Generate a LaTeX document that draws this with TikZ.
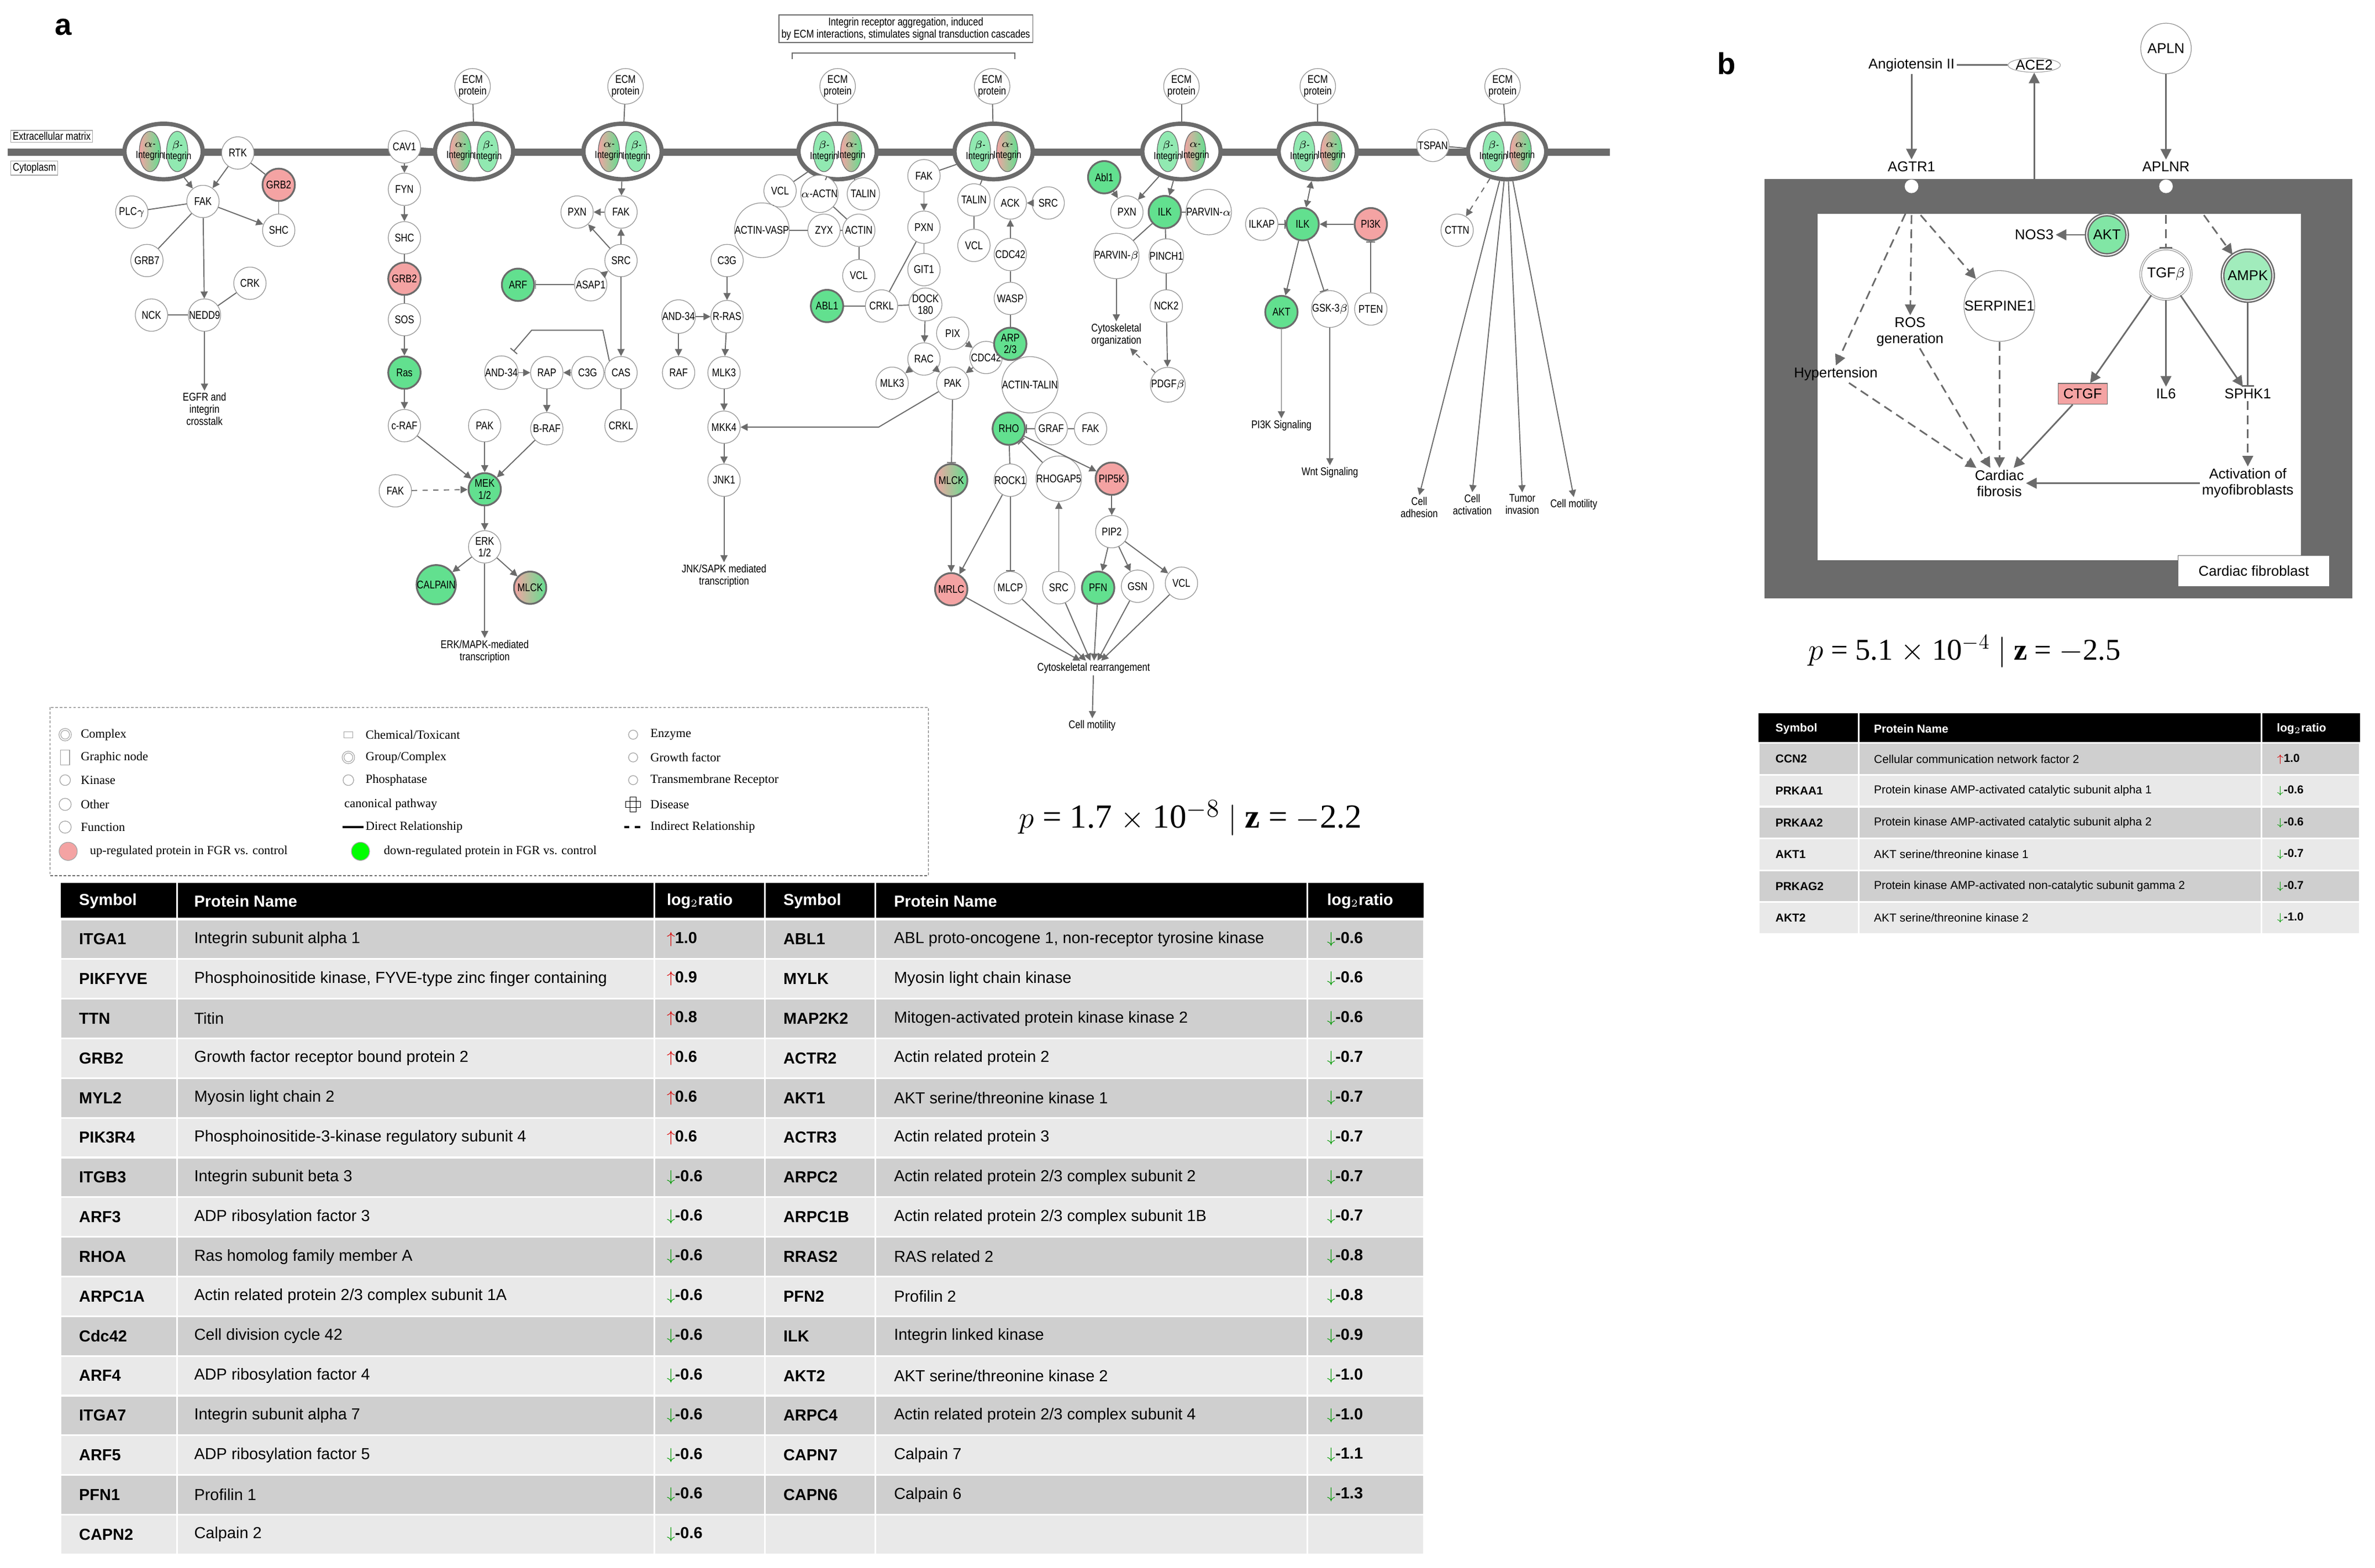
\documentclass[tikz,border=0pt]{standalone}
\usepackage{fontspec}
\setmainfont{Liberation Serif}
\newfontfamily\sans{Liberation Sans}
\newfontfamily\nsans[FakeStretch=0.82]{Liberation Sans}
\usetikzlibrary{arrows.meta,shapes.geometric}
\definecolor{lc}{HTML}{6B6B6B}
\definecolor{gfill}{HTML}{62E08F}
\definecolor{rfill}{HTML}{F4A3A3}
\definecolor{rowA}{HTML}{CFCFCF}
\definecolor{rowB}{HTML}{E9E9E9}
\newcommand\myup[1]{{\color{red!85!black}$\uparrow$}#1}
\newcommand\mydn[1]{{\color{green!60!black}$\downarrow$}#1}
\tikzset{
 gn/.style={circle,draw=lc!70,fill=white,minimum size=0.64cm,inner sep=0pt,font=\nsans\fontsize{6.3}{6.6}\selectfont,align=center},
 gg/.style={gn,fill=gfill,draw=lc,line width=1pt},
 gr/.style={gn,fill=rfill,draw=lc,line width=1pt},
 gm/.style={gn,left color=rfill,right color=gfill,draw=lc,line width=1pt},
 tx/.style={font=\nsans\fontsize{6.3}{6.8}\selectfont,align=center,inner sep=1pt},
 cplx/.style={ellipse,draw=lc,line width=2.4pt,fill=white,minimum width=1.55cm,minimum height=1.1cm},
 ial/.style={ellipse,draw=lc,left color=rfill,right color=gfill,minimum width=0.42cm,minimum height=0.8cm,inner sep=0pt},
 ibe/.style={ellipse,draw=lc,fill=gfill!70,minimum width=0.42cm,minimum height=0.8cm,inner sep=0pt},
 il/.style={font=\nsans\fontsize{5.8}{6.2}\selectfont,align=center},
 ln/.style={draw=lc,line width=0.6pt},
 ar/.style={ln,-{Triangle[length=4pt,width=4pt]}},
 da/.style={ar,dashed},
 inh/.style={ln,-{Bar[width=5pt]}},
 bn/.style={circle,draw=lc!70,fill=white,minimum size=1.0cm,inner sep=0pt,font=\sans\fontsize{8}{9}\selectfont,align=center},
 btx/.style={font=\sans\fontsize{8}{9}\selectfont,align=center,inner sep=1pt},
 bar/.style={draw=lc,line width=0.9pt,-{Triangle[length=6pt,width=6pt]}},
 bda/.style={bar,dash pattern=on 5pt off 3pt},
 binh/.style={draw=lc,line width=0.9pt,-{Bar[width=7pt]}},
}
\newcommand\icx[3]{%
 \node[cplx] (#1) at (#2,100) {};
 \ifnum#3=0
  \node[ial] at (#2-9,100) {}; \node[ibe] at (#2+9,100) {};
  \node[il] at (#2-9,100) {$\alpha$-\\Integrin}; \node[il] at (#2+9,100) {$\beta$-\\Integrin};
 \else
  \node[ibe] at (#2-9,100) {}; \node[ial] at (#2+9,100) {};
  \node[il] at (#2-9,100) {$\beta$-\\Integrin}; \node[il] at (#2+9,100) {$\alpha$-\\Integrin};
 \fi}
\newcommand\ecm[3]{\node[gn] (#1) at (#2,57) {ECM\\protein}; \draw[ln] (#1) -- (#3);}
\begin{document}
\begin{tikzpicture}[x=0.03cm,y=-0.03cm]
\useasboundingbox (0,0) rectangle (1568,1035);
\fill[white] (0,0) rectangle (1568,1035);
\node[font=\sans\bfseries\fontsize{17}{18}\selectfont] (la) at (42,18) {a};
\node[font=\sans\bfseries\fontsize{17}{18}\selectfont] (lb) at (1140,42) {b};
% ---------------- membrane
\fill[lc] (5,98) rectangle (1063,103);
\node[draw=lc!60,fill=white,font=\nsans\fontsize{6.3}{6.6}\selectfont,inner sep=1pt,anchor=west] (ecx) at (7,90) {Extracellular matrix};
\node[draw=lc!60,fill=white,font=\nsans\fontsize{6.3}{6.6}\selectfont,inner sep=1pt,anchor=west] (cyt) at (7,111) {Cytoplasm};
\node[draw=lc,line width=0.5pt,font=\nsans\fontsize{6.3}{6.8}\selectfont,align=center,inner sep=1.5pt] (note) at (598,19) {Integrin receptor aggregation, induced\\by ECM interactions, stimulates signal transduction cascades};
\draw[lc,line width=0.6pt] (523,39) -- (523,35) -- (670,35) -- (670,39);
\icx{c1}{108}{0}\icx{c2}{313}{0}\icx{c3}{411}{0}\icx{c4}{553}{1}
\icx{c5}{656}{1}\icx{c6}{780}{1}\icx{c7}{870}{1}\icx{c8}{995}{1}
\ecm{e2}{312}{c2}\ecm{e3}{413}{c3}\ecm{e4}{553}{c4}\ecm{e5}{655}{c5}
\ecm{e6}{780}{c6}\ecm{e7}{870}{c7}\ecm{e8}{992}{c8}
% ---------------- group 1
\node[gn] (rtk) at (157,101) {RTK};
\node[gn] (fak1) at (134,133) {FAK};
\node[gr] (grb2a) at (184,122) {GRB2};
\node[gn] (plc) at (87,140) {PLC$\gamma$};
\node[gn] (shc1) at (184,152) {SHC};
\node[gn] (grb7) at (97,172) {GRB7};
\node[gn] (crk) at (165,187) {CRK};
\node[gn] (nck) at (100,208) {NCK};
\node[gn] (ned) at (135,208) {NEDD9};
\node[tx] (egfr) at (135,270) {EGFR and\\integrin\\crosstalk};
\draw[ar] (c1) -- (fak1); \draw[ar] (rtk) -- (fak1); \draw[ln] (rtk) -- (grb2a);
\draw[ln] (grb2a) -- (shc1); \draw[ln] (fak1) -- (plc); \draw[ar] (fak1) -- (shc1);
\draw[ln] (fak1) -- (grb7); \draw[ar] (fak1) -- (ned); \draw[ln] (crk) -- (ned);
\draw[ln] (nck) -- (ned); \draw[ar] (ned) -- (egfr);
% ---------------- group 2
\node[gn] (cav) at (267,97) {CAV1};
\node[gn] (fyn) at (267,125) {FYN};
\node[gn] (shc2) at (267,157) {SHC};
\node[gr] (grb2b) at (267,184) {GRB2};
\node[gn] (sos) at (267,211) {SOS};
\node[gg] (ras) at (267,246) {Ras};
\node[gn] (craf) at (267,281) {c-RAF};
\node[gn] (pak1) at (320,281) {PAK};
\node[gn] (braf) at (361,283) {B-RAF};
\node[gn] (fak2) at (261,324) {FAK};
\node[gg] (mek) at (320,323) {MEK\\1/2};
\node[gn] (erk) at (320,361) {ERK\\1/2};
\node[gg] (calp) at (288,386) {CALPAIN};
\node[gm] (mlck1) at (350,388) {MLCK};
\node[tx] (erkt) at (320,430) {ERK/MAPK-mediated\\transcription};
\draw[ln] (cav) -- (c2); \draw[ar] (cav) -- (fyn); \draw[ar] (fyn) -- (shc2);
\draw[ln] (shc2) -- (grb2b); \draw[ln] (grb2b) -- (sos); \draw[ar] (sos) -- (ras);
\draw[ar] (ras) -- (craf); \draw[ar] (craf) -- (mek); \draw[ar] (pak1) -- (mek);
\draw[ar] (braf) -- (mek); \draw[da] (fak2) -- (mek); \draw[ar] (mek) -- (erk);
\draw[ar] (erk) -- (calp); \draw[ar] (erk) -- (mlck1); \draw[ar] (erk) -- (erkt);
% ---------------- group 3
\node[gn] (fak3) at (410,140) {FAK};
\node[gn] (pxn3) at (381,140) {PXN};
\node[gn] (src3) at (410,172) {SRC};
\node[gg] (arf) at (342,188) {ARF};
\node[gn] (asap) at (390,188) {ASAP1};
\node[gn] (and3) at (331,246) {AND-34};
\node[gn] (rap) at (361,246) {RAP};
\node[gn] (c3g3) at (388,246) {C3G};
\node[gn] (cas) at (410,246) {CAS};
\node[gn] (crkl3) at (410,281) {CRKL};
\coordinate (ib1) at (398,218); \coordinate (ib2) at (351,218); \coordinate (ib3) at (339,232);
\draw[ar] (c3) -- (fak3); \draw[ar] (fak3) -- (pxn3); \draw[ar] (src3) -- (fak3);
\draw[ar] (src3) -- (pxn3); \draw[inh] (asap) -- (arf); \draw[ar] (asap) -- (src3);
\draw[ar] (src3) -- (cas); \draw[ar] (and3) -- (rap); \draw[ar] (c3g3) -- (rap);
\draw[ln] (c3g3) -- (cas); \draw[ln] (cas) -- (crkl3); \draw[ar] (rap) -- (braf);
\draw[ln,-{Bar[width=5pt]}] (cas.north west) -- (ib1) -- (ib2) -- (ib3);
% ---------------- group 4
\node[gn] (vcl4) at (515,126) {VCL};
\node[gn] (actn) at (541,128) {$\alpha$-ACTN};
\node[gn] (tal4) at (570,128) {TALIN};
\node[gn] (avasp) at (503,152) {ACTIN-VASP};
\node[gn] (zyx) at (544,152) {ZYX};
\node[gn] (act4) at (567,152) {ACTIN};
\node[gn] (vcl4b) at (567,182) {VCL};
\node[gn] (c3g4) at (480,172) {C3G};
\node[gn] (and4) at (448,209) {AND-34};
\node[gn] (rras) at (480,209) {R-RAS};
\node[gn] (raf4) at (448,246) {RAF};
\node[gn] (mlk3a) at (478,246) {MLK3};
\node[gn] (mkk4) at (478,282) {MKK4};
\node[gn] (jnk) at (478,317) {JNK1};
\node[tx] (jnkt) at (478,380) {JNK/SAPK mediated\\transcription};
\draw[ln] (c4) -- (vcl4); \draw[ln] (c4) -- (actn); \draw[ln] (c4) -- (tal4);
\draw[ln] (vcl4) -- (avasp); \draw[ln] (avasp) -- (zyx); \draw[ln] (zyx) -- (act4);
\draw[ln] (actn) -- (act4); \draw[ln] (act4) -- (vcl4b);
\draw[ar] (c3g4) -- (rras); \draw[ar] (and4) -- (rras); \draw[ar] (and4) -- (raf4);
\draw[ar] (rras) -- (mlk3a); \draw[ar] (mlk3a) -- (mkk4); \draw[ar] (mkk4) -- (jnk);
\draw[ar] (jnk) -- (jnkt);
% ---------------- group 5
\node[gg] (abl) at (546,202) {ABL1};
\node[gn] (crkl5) at (582,202) {CRKL};
\node[gn] (dock) at (611,201) {DOCK\\180};
\node[gn] (fak5) at (610,116) {FAK};
\node[gn] (pxn5) at (610,150) {PXN};
\node[gn] (git) at (610,178) {GIT1};
\node[gn] (pix) at (629,220) {PIX};
\node[gn] (rac) at (610,237) {RAC};
\node[gn] (cdc5) at (651,236) {CDC42};
\node[gn] (mlk3b) at (589,253) {MLK3};
\node[gn] (pak5) at (629,253) {PAK};
\node[gn] (tal5) at (643,132) {TALIN};
\node[gn] (ack) at (667,134) {ACK};
\node[gn] (src5) at (692,134) {SRC};
\node[gn] (vcl5) at (643,162) {VCL};
\node[gn] (cdc5b) at (667,168) {CDC42};
\node[gn] (wasp) at (667,197) {WASP};
\node[gg] (arp) at (667,227) {ARP\\2/3};
\node[gn] (acttal) at (680,254) {ACTIN-TALIN};
\node[gg] (rho) at (666,283) {RHO};
\node[gn] (graf) at (694,283) {GRAF};
\node[gn] (fak5b) at (720,283) {FAK};
\node[gn] (rock) at (667,317) {ROCK1};
\node[gn] (rhogap) at (699,316) {RHOGAP5};
\node[gr] (pip5k) at (734,316) {PIP5K};
\node[gm] (mlck5) at (628,317) {MLCK};
\node[gn] (pip2) at (734,351) {PIP2};
\node[gr] (mrlc) at (628,389) {MRLC};
\node[gn] (mlcp) at (667,388) {MLCP};
\node[gn] (src5b) at (699,388) {SRC};
\node[gg] (pfn) at (725,388) {PFN};
\node[gn] (gsn) at (751,387) {GSN};
\node[gn] (vcl5b) at (780,385) {VCL};
\node[tx] (cyto) at (722,441) {Cytoskeletal rearrangement};
\node[tx] (motil) at (721,479) {Cell motility};
\coordinate (pk) at (580,282);
\draw[ln] (c5) -- (fak5); \draw[ar] (fak5) -- (pxn5); \draw[ln] (pxn5) -- (git);
\draw[ln] (pxn5) -- (crkl5); \draw[ln] (abl) -- (crkl5); \draw[ln] (crkl5) -- (dock);
\draw[ar] (dock) -- (rac); \draw[ar] (pix) -- (cdc5); \draw[ar] (rac) -- (mlk3b);
\draw[ar] (rac) -- (pak5); \draw[ar] (cdc5) -- (pak5); \draw[ln] (c5) -- (tal5);
\draw[ln] (tal5) -- (vcl5); \draw[ar] (src5) -- (ack); \draw[ar] (cdc5b) -- (ack);
\draw[ln] (cdc5b) -- (wasp); \draw[ln] (wasp) -- (arp); \draw[ln] (arp) -- (acttal);
\draw[ln,-{Triangle[length=4pt,width=4pt]}] (pak5) -- (pk) -- (mkk4);
\draw[inh] (pak5) -- (mlck5); \draw[ar] (mlck5) -- (mrlc); \draw[ar] (rock) -- (mrlc);
\draw[inh] (rock) -- (mlcp); \draw[ln] (rho) -- (rock); \draw[inh] (graf) -- (rho);
\draw[ln] (graf) -- (fak5b); \draw[ar] (rho) -- (pip5k); \draw[inh] (rhogap) -- (rho);
\draw[ar] (src5b) -- (rhogap); \draw[ar] (pip5k) -- (pip2); \draw[ar] (pip2) -- (pfn);
\draw[ar] (pip2) -- (gsn); \draw[ar] (pip2) -- (vcl5b);
\foreach \n in {mrlc,mlcp,src5b,pfn,gsn,vcl5b} \draw[ar] (\n) -- (cyto);
\draw[ar] (cyto) -- (motil);
% ---------------- group 6
\node[gg] (abl6) at (729,117) {Abl1};
\node[gn] (pxn6) at (744,140) {PXN};
\node[gg] (ilk6) at (769,140) {ILK};
\node[gn] (parva) at (798,140) {PARVIN-$\alpha$};
\node[gn] (parvb) at (737,169) {PARVIN-$\beta$};
\node[gn] (pinch) at (770,169) {PINCH1};
\node[gn] (nck2) at (770,202) {NCK2};
\node[tx] (cyorg) at (737,221) {Cytoskeletal\\organization};
\node[gn] (pdgf) at (771,254) {PDGF$\beta$};
\draw[ar] (abl6) -- (pxn6); \draw[ar] (c6) -- (pxn6); \draw[ar] (c6) -- (ilk6);
\draw[ln] (ilk6) -- (parva); \draw[ln] (ilk6) -- (parvb); \draw[ln] (ilk6) -- (pinch);
\draw[ln] (pinch) -- (nck2); \draw[ar] (nck2) -- (pdgf); \draw[ar] (parvb) -- (cyorg);
\draw[da] (pdgf) -- (cyorg);
% ---------------- group 7
\node[gn] (ilkap) at (833,148) {ILKAP};
\node[gg] (ilk7) at (860,148) {ILK};
\node[gr] (pi3k) at (905,148) {PI3K};
\node[gg] (akt7) at (846,206) {AKT};
\node[gn] (gsk) at (878,204) {GSK-3$\beta$};
\node[gn] (pten) at (905,204) {PTEN};
\node[tx] (pi3ks) at (846,281) {PI3K Signaling};
\node[tx] (wnt) at (878,312) {Wnt Signaling};
\draw[ln,{Triangle[length=4pt,width=4pt]}-{Triangle[length=4pt,width=4pt]}] (c7) -- (ilk7);
\draw[inh] (ilkap) -- (ilk7); \draw[ar] (pi3k) -- (ilk7); \draw[inh] (pten) -- (pi3k);
\draw[ar] (ilk7) -- (akt7); \draw[inh] (ilk7) -- (gsk); \draw[ar] (akt7) -- (pi3ks);
\draw[ar] (gsk) -- (wnt);
% ---------------- group 8
\node[gn] (tspan) at (946,96) {TSPAN};
\node[gn] (cttn) at (962,152) {CTTN};
\node[tx] (cadh) at (937,335) {Cell\\adhesion};
\node[tx] (cact) at (972,333) {Cell\\activation};
\node[tx] (tinv) at (1005,333) {Tumor\\invasion};
\node[tx] (cmot) at (1039,333) {Cell motility};
\draw[ln] (tspan) -- (c8); \draw[da] (c8) -- (cttn);
\foreach \n in {cadh,cact,tinv,cmot} \draw[ar] (c8) -- (\n.north);
% ---------------- legend
\draw[lc,dash pattern=on 1.5pt off 1pt,line width=0.5pt] (33,467) rectangle (613,578);
\begin{scope}[every node/.style={font=\fontsize{7}{8}\selectfont,anchor=west,inner sep=1pt}]
\node (l1) at (52,485) {Complex}; \node (l2) at (52,500) {Graphic node};
\node (l3) at (52,515) {Kinase}; \node (l4) at (52,531) {Other};
\node (l5) at (52,546) {Function}; \node (l6) at (58,562) {up-regulated protein in FGR vs. control};
\node (l7) at (240,485) {Chemical/Toxicant}; \node (l8) at (240,500) {Group/Complex};
\node (l9) at (240,515) {Phosphatase}; \node (l10) at (226,531) {canonical pathway};
\node (l11) at (240,546) {Direct Relationship}; \node (l12) at (252,562) {down-regulated protein in FGR vs. control};
\node (l13) at (428,485) {Enzyme}; \node (l14) at (428,500) {Growth factor};
\node (l15) at (428,515) {Transmembrane Receptor}; \node (l16) at (428,531) {Disease};
\node (l17) at (428,546) {Indirect Relationship};
\end{scope}
\draw[gray!70,double,line width=0.4pt] (43,485) circle (3.5);
\draw[gray!70] (40,495) rectangle (46,505);
\draw[gray!70] (43,515) circle (3.5);
\draw[gray!70] (43,531) circle (4);
\draw[gray!70] (43,546) circle (4);
\fill[rfill,draw=lc!60] (45,562) ellipse (6 and 6);
\draw[gray!70] (227,483) rectangle (233,487);
\draw[gray!70,double] (230,500) circle (3.5);
\draw[gray!70] (230,515) circle (3.5);
\draw[black,line width=1pt] (226,546) -- (240,546);
\fill[green,draw=lc!60] (238,562) ellipse (6 and 6);
\draw[gray!70] (418,485) circle (3);
\draw[gray!70] (418,500) circle (3);
\draw[gray!70] (418,515) circle (3);
\draw[black] (416,526) rectangle (420,536); \draw[black] (413,529) rectangle (423,533);
\draw[black,dashed,line width=1pt] (412,546) -- (425,546);
% ---------------- p-values
\node[font=\fontsize{19}{21}\selectfont] (pa) at (786,540) {$p$ = 1.7 $\times$ 10$^{-8}$ $|$ $\mathbf{z}$ = $-$2.2};
\node[font=\fontsize{17}{19}\selectfont] (pb) at (1297,430) {$p$ = 5.1 $\times$ 10$^{-4}$ $|$ $\mathbf{z}$ = $-$2.5};
% ---------------- table a
\fill[black] (40,583) rectangle (940,606);
\foreach \x in {117,432,505,578,863} \draw[white,line width=1pt] (\x,583) -- (\x,606);
\begin{scope}[every node/.style={font=\sans\bfseries\fontsize{9}{10}\selectfont,text=white,anchor=west,inner sep=0pt}]
\node at (52,595) {Symbol}; \node at (128,595) {Protein Name}; \node at (440,595) {log$_2$ratio};
\node at (517,595) {Symbol}; \node at (590,595) {Protein Name}; \node at (876,595) {log$_2$ratio};
\end{scope}
\foreach \i/\sa/\na/\va/\sb/\nb/\vb in {
1/ITGA1/Integrin subunit alpha 1/\myup{1.0}/ABL1/{ABL proto-oncogene 1, non-receptor tyrosine kinase}/\mydn{-0.6},
2/PIKFYVE/{Phosphoinositide kinase, FYVE-type zinc finger containing}/\myup{0.9}/MYLK/Myosin light chain kinase/\mydn{-0.6},
3/TTN/Titin/\myup{0.8}/MAP2K2/Mitogen-activated protein kinase kinase 2/\mydn{-0.6},
4/GRB2/Growth factor receptor bound protein 2/\myup{0.6}/ACTR2/Actin related protein 2/\mydn{-0.7},
5/MYL2/Myosin light chain 2/\myup{0.6}/AKT1/AKT serine{/}threonine kinase 1/\mydn{-0.7},
6/PIK3R4/Phosphoinositide-3-kinase regulatory subunit 4/\myup{0.6}/ACTR3/Actin related protein 3/\mydn{-0.7},
7/ITGB3/Integrin subunit beta 3/\mydn{-0.6}/ARPC2/Actin related protein 2{/}3 complex subunit 2/\mydn{-0.7},
8/ARF3/ADP ribosylation factor 3/\mydn{-0.6}/ARPC1B/Actin related protein 2{/}3 complex subunit 1B/\mydn{-0.7},
9/RHOA/Ras homolog family member A/\mydn{-0.6}/RRAS2/RAS related 2/\mydn{-0.8},
10/ARPC1A/Actin related protein 2{/}3 complex subunit 1A/\mydn{-0.6}/PFN2/Profilin 2/\mydn{-0.8},
11/Cdc42/Cell division cycle 42/\mydn{-0.6}/ILK/Integrin linked kinase/\mydn{-0.9},
12/ARF4/ADP ribosylation factor 4/\mydn{-0.6}/AKT2/AKT serine{/}threonine kinase 2/\mydn{-1.0},
13/ITGA7/Integrin subunit alpha 7/\mydn{-0.6}/ARPC4/Actin related protein 2{/}3 complex subunit 4/\mydn{-1.0},
14/ARF5/ADP ribosylation factor 5/\mydn{-0.6}/CAPN7/Calpain 7/\mydn{-1.1},
15/PFN1/Profilin 1/\mydn{-0.6}/CAPN6/Calpain 6/\mydn{-1.3},
16/CAPN2/Calpain 2/\mydn{-0.6}/{}/{}/{}}{
 \pgfmathsetmacro\yc{620+(\i-1)*26.2}
 \ifodd\i \def\rc{rowA}\else\def\rc{rowB}\fi
 \foreach \xa/\xb in {40/117,117/432,432/505,505/578,578/863,863/940}
  \filldraw[fill=\rc,draw=white,line width=1pt] (\xa,\yc-13.1) rectangle (\xb,\yc+13.1);
 \node[font=\sans\bfseries\fontsize{9}{10}\selectfont,anchor=west,inner sep=0pt] at (52,\yc) {\sa};
 \node[font=\sans\fontsize{9}{10}\selectfont,anchor=west,inner sep=0pt] at (128,\yc) {\na};
 \node[font=\sans\bfseries\fontsize{9}{10}\selectfont,anchor=west,inner sep=0pt] at (440,\yc) {\va};
 \node[font=\sans\bfseries\fontsize{9}{10}\selectfont,anchor=west,inner sep=0pt] at (517,\yc) {\sb};
 \node[font=\sans\fontsize{9}{10}\selectfont,anchor=west,inner sep=0pt] at (590,\yc) {\nb};
 \node[font=\sans\bfseries\fontsize{9}{10}\selectfont,anchor=west,inner sep=0pt] at (876,\yc) {\vb};
}
% ---------------- panel b diagram
\fill[lc] (1165,118) rectangle (1553,395);
\fill[white] (1200,141) rectangle (1519,370);
\node[draw=lc,fill=white,font=\sans\fontsize{8}{9}\selectfont,minimum width=3.0cm,minimum height=0.62cm] (cfb) at (1488,377) {Cardiac fibroblast};
\node[btx] (ang) at (1262,43) {Angiotensin II};
\node[btx,draw=lc!60,ellipse,inner sep=0pt] (ace2) at (1343,43) {ACE2};
\node[bn] (apln) at (1430,32) {APLN};
\node[btx,fill=white] (agtr) at (1262,110) {AGTR1};
\node[btx,fill=white] (aplnr) at (1430,110) {APLNR};
\fill[white] (1262,123) circle (4.5); \fill[white] (1430,123) circle (4.5);
\node[btx,fill=white] (nos3) at (1343,155) {NOS3};
\node[bn,fill=gfill!80,draw=lc,double,line width=0.8pt,minimum size=0.8cm] (aktb) at (1391,155) {AKT};
\node[bn,double] (tgfb) at (1430,181) {TGF$\beta$};
\node[bn,fill=gfill!60,draw=lc,double,line width=0.8pt] (ampk) at (1484,182) {AMPK};
\node[btx] (ros) at (1261,219) {ROS\\generation};
\node[bn] (serp) at (1320,202) {SERPINE1};
\node[btx] (hyp) at (1212,247) {Hypertension};
\node[btx,fill=rfill,draw=lc,inner sep=3pt] (ctgf) at (1375,260) {CTGF};
\node[btx] (il6) at (1430,260) {IL6};
\node[btx] (sphk) at (1484,260) {SPHK1};
\node[btx] (cf) at (1320,319) {Cardiac\\fibrosis};
\node[btx] (act) at (1484,319) {Activation of\\myofibroblasts};
\coordinate (agtrb) at (1262,123); \coordinate (aplnrb) at (1430,123);
\coordinate (acel) at (1343,118);
\draw[draw=lc,line width=0.9pt] (ang) -- (ace2);
\draw[bar] (ang) -- (agtr); \draw[bar] (acel) -- (ace2); \draw[bar] (apln) -- (aplnr);
\draw[bda] (agtrb)+(-4,18) -- (hyp.north);
\draw[bda] (1262,142) -- (ros); \draw[bda] (1268,142) -- (serp);
\draw[bar] (aktb) -- (nos3);
\draw[binh,dash pattern=on 5pt off 3pt] (1430,142) -- (tgfb);
\draw[bda] (1455,142) -- (ampk);
\draw[bar] (tgfb) -- (ctgf); \draw[bar] (tgfb) -- (il6); \draw[bar] (tgfb) -- (sphk);
\draw[binh] (ampk) -- (sphk); \draw[bda] (sphk) -- (act);
\draw[bar] (act) -- (cf); \draw[bar] (ctgf) -- (cf); \draw[bda] (serp) -- (cf);
\draw[bda] (ros) -- (cf); \draw[bda] (hyp) -- (cf);
% ---------------- table b
\fill[black] (1161,471) rectangle (1558,490);
\foreach \x in {1227,1493} \draw[white,line width=1pt] (\x,471) -- (\x,490);
\begin{scope}[every node/.style={font=\sans\bfseries\fontsize{6.5}{7}\selectfont,text=white,anchor=west,inner sep=0pt}]
\node at (1172,481) {Symbol}; \node at (1237,481) {Protein Name}; \node at (1503,481) {log$_2$ratio};
\end{scope}
\foreach \i/\sa/\na/\va in {
1/CCN2/Cellular communication network factor 2/\myup{1.0},
2/PRKAA1/Protein kinase AMP-activated catalytic subunit alpha 1/\mydn{-0.6},
3/PRKAA2/Protein kinase AMP-activated catalytic subunit alpha 2/\mydn{-0.6},
4/AKT1/AKT serine{/}threonine kinase 1/\mydn{-0.7},
5/PRKAG2/Protein kinase AMP-activated non-catalytic subunit gamma 2/\mydn{-0.7},
6/AKT2/AKT serine{/}threonine kinase 2/\mydn{-1.0}}{
 \pgfmathsetmacro\yc{501+(\i-1)*21}
 \ifodd\i \def\rc{rowA}\else\def\rc{rowB}\fi
 \foreach \xa/\xb in {1161/1227,1227/1493,1493/1558}
  \filldraw[fill=\rc,draw=white,line width=1pt] (\xa,\yc-10.5) rectangle (\xb,\yc+10.5);
 \node[font=\sans\bfseries\fontsize{6.5}{7}\selectfont,anchor=west,inner sep=0pt] at (1172,\yc) {\sa};
 \node[font=\sans\fontsize{6.5}{7}\selectfont,anchor=west,inner sep=0pt] at (1237,\yc) {\na};
 \node[font=\sans\bfseries\fontsize{6.5}{7}\selectfont,anchor=west,inner sep=0pt] at (1503,\yc) {\va};
}
\end{tikzpicture}
\end{document}
